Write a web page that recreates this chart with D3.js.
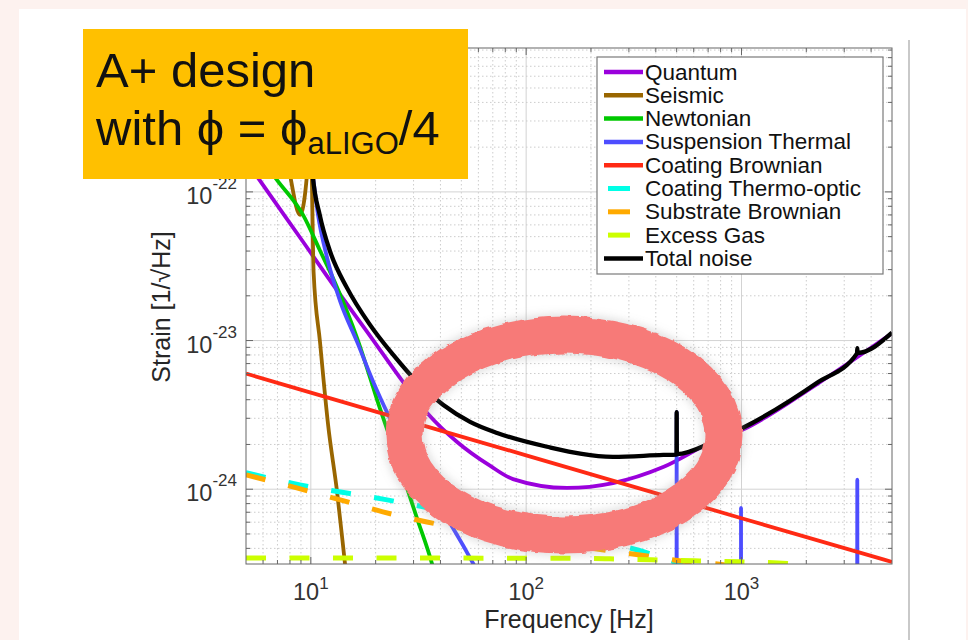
<!DOCTYPE html>
<html>
<head>
<meta charset="utf-8">
<script src="https://cdn.jsdelivr.net/npm/d3@7"></script>
<style>
  html, body { margin: 0; padding: 0; background: #fdf2ef; }
  svg { display: block; }
  text { font-family: "Liberation Sans", Arial, Helvetica, sans-serif; }
</style>
</head>
<body>
<svg id="chart" width="968" height="640"></svg>
<script>
// Noise budget curves, each point is [frequency (Hz), strain (1/√Hz)]
const quantum = [[5,1.62e-22],[6.46,9.55e-23],[9.2,4.62e-23],[13.2,2.19e-23],[18.8,1.08e-23],[26.8,5.27e-24],[34.7,3.26e-24],[47.8,2.08e-24],[67.9,1.44e-24],[86.9,1.17e-24],[155,1.02e-24],[253,1.10e-24],[433,1.41e-24],[715,2.05e-24],[1017,2.52e-24],[2244,5.1e-24],[5000,1.12e-23]];
const seismic = [[5,3e-21],[7.2,3.5e-22],[8.0,1.31e-22],[8.91,7.0e-23],[9.6,1.31e-22],[9.85,2.5e-22],[10.1,1.31e-22],[10.3,2.9e-23],[11.03,9.8e-24],[12.03,2.71e-24],[13.24,9.6e-25],[14.43,3.1e-25],[16,8e-26]];
const newtonian = [[5,2.3e-22],[6.97,1.20e-22],[9.2,7.0e-23],[11.0,4.07e-23],[13.2,2.30e-23],[16.4,1.04e-23],[20.9,3.52e-24],[26.8,1.23e-24],[31.1,6.4e-25],[37.0,2.95e-25],[45,8e-26]];
const suspension = [[5,5e-21],[9,4e-22],[10.2,1.31e-22],[10.8,7.0e-23],[11.9,3.61e-23],[13.7,1.83e-23],[16.4,9.8e-24],[19.5,5.27e-24],[22.9,3.16e-24],[28.9,1.63e-24],[35.8,9.6e-25],[45.7,5.48e-25],[57.9,3.0e-25],[80,1.2e-25],[150,3e-26],[499,1e-26],[500,3.3e-24],[501,1e-26],[994,1e-26],[995,7.5e-25],[996,1e-26],[3440,1e-26],[3450,1.16e-24],[3460,1e-26],[5000,1e-26]];
const coatingBrownian = [[5,6.0e-24],[10,4.46e-24],[100,1.69e-24],[1000,6.38e-25],[5000,3.24e-25]];
const coatingThermoOptic = [[5,1.29e-24],[8.9,1.07e-24],[22.6,8.48e-25],[57,6.51e-25],[90.8,5.67e-25],[129,5.08e-25],[365,3.73e-25],[535,3.05e-25],[800,2.1e-25]];
const substrateBrownian = [[5,1.25e-24],[8.6,1.02e-24],[13.7,8.48e-25],[21.6,7.04e-25],[34.6,6.02e-25],[54.9,5.32e-25],[338,3.61e-25],[577,3.24e-25],[822,3.1e-25],[1200,2.6e-25]];
const excessGas = [[5,3.45e-25],[150,3.43e-25],[245,3.40e-25],[382,3.35e-25],[605,3.30e-25],[985,3.25e-25],[1630,3.16e-25],[2500,2.9e-25],[5000,2.5e-25]];
const totalNoise = [[5,2e-21],[8,6e-22],[9.8,4e-22],[10.2,1.31e-22],[11.0,7.0e-23],[12.3,3.96e-23],[14.7,2.27e-23],[18.8,1.28e-23],[24.1,8.03e-24],[31.1,5.27e-24],[41.1,3.70e-24],[54.9,2.84e-24],[73.3,2.39e-24],[125,1.93e-24],[253,1.65e-24],[433,1.70e-24],[499,1.71e-24],[500,3.3e-24],[501,1.72e-24],[738,2.08e-24],[1017,2.59e-24],[2244,5.2e-24],[3440,8.2e-24],[3450,8.9e-24],[3460,8.25e-24],[5000,1.13e-23]];

const seriesNames = ["Quantum","Seismic","Newtonian","Suspension Thermal","Coating Brownian","Coating Thermo-optic","Substrate Brownian","Excess Gas","Total noise"];
const seriesData = [quantum, seismic, newtonian, suspension, coatingBrownian, coatingThermoOptic, substrateBrownian, excessGas, totalNoise];
const seriesColors = ["#9a00dc","#996600","#00c800","#4d4dff","#ff2a14","#00ffe6","#ffaa00","#ccff00","#000000"];
const seriesDashed = [false,false,false,false,false,true,true,true,false];

const freqDomain = [5, 5000];
const strainDomain = [3.14e-25, 9.29e-22];
const xTickValues = [10, 100, 1000];
const xTickExponents = ["1", "2", "3"];
const yTickValues = [1e-22, 1e-23, 1e-24];
const yTickExponents = ["-22", "-23", "-24"];

const svg = d3.select("#chart");

// slide card
svg.append("rect").attr("x", 19).attr("y", 9).attr("width", 947).attr("height", 631).attr("fill", "#ffffff");
svg.append("line").attr("x1", 909).attr("x2", 909).attr("y1", 40).attr("y2", 640)
  .attr("stroke", "#c9c9c9").attr("stroke-width", 2);

const L = 246, R = 892, T = 48, B = 564;
const x = d3.scaleLog().domain(freqDomain).range([L, R]);
const y = d3.scaleLog().domain(strainDomain).range([B, T]);

const isMajor = v => Math.abs(Math.log10(v) - Math.round(Math.log10(v))) < 1e-9;
const xt = x.ticks().filter(v => v > freqDomain[0] * 1.0001 && v < freqDomain[1] * 0.9999);
const yt = y.ticks().filter(v => v > strainDomain[0] && v < strainDomain[1]);

// grid
const grid = svg.append("g");
grid.selectAll("line.gx").data(xt).join("line")
  .attr("x1", d => x(d)).attr("x2", d => x(d)).attr("y1", T).attr("y2", B)
  .attr("stroke", d => isMajor(d) ? "#d3d3d3" : "#cccccc")
  .attr("stroke-dasharray", d => isMajor(d) ? null : "1.5,2.5");
grid.selectAll("line.gy").data(yt).join("line")
  .attr("y1", d => y(d)).attr("y2", d => y(d)).attr("x1", L).attr("x2", R)
  .attr("stroke", d => isMajor(d) ? "#d3d3d3" : "#cccccc")
  .attr("stroke-dasharray", d => isMajor(d) ? null : "1.5,2.5");

// curves
svg.append("clipPath").attr("id", "plotClip").append("rect")
  .attr("x", L).attr("y", T).attr("width", R - L).attr("height", B - T);
const line = d3.line().x(d => x(d[0])).y(d => y(d[1])).curve(d3.curveMonotoneX);
const curves = svg.append("g").attr("clip-path", "url(#plotClip)");
seriesData.forEach((data, i) => {
  curves.append("path").datum(data)
    .attr("d", line)
    .attr("fill", "none")
    .attr("stroke", seriesColors[i])
    .attr("stroke-width", seriesDashed[i] ? 5 : (i === 8 ? 4.3 : 3.8))
    .attr("stroke-linejoin", "round")
    .attr("stroke-dasharray", seriesDashed[i] ? "20,23.5" : null);
});

// axes box and inward ticks
const ax = svg.append("g").attr("stroke", "#666").attr("stroke-width", 1);
ax.append("rect").attr("x", L).attr("y", T).attr("width", R - L).attr("height", B - T).attr("fill", "none");
xt.forEach(v => {
  const len = isMajor(v) ? 7 : 4;
  ax.append("line").attr("x1", x(v)).attr("x2", x(v)).attr("y1", B).attr("y2", B - len);
  ax.append("line").attr("x1", x(v)).attr("x2", x(v)).attr("y1", T).attr("y2", T + len);
});
yt.forEach(v => {
  const len = isMajor(v) ? 7 : 4;
  ax.append("line").attr("y1", y(v)).attr("y2", y(v)).attr("x1", L).attr("x2", L + len);
  ax.append("line").attr("y1", y(v)).attr("y2", y(v)).attr("x1", R).attr("x2", R - len);
});

// tick labels
xTickValues.forEach((v, i) => {
  const t = svg.append("text").attr("x", x(v)).attr("y", 600)
    .attr("text-anchor", "middle").attr("fill", "#333").attr("font-size", 23.5);
  t.append("tspan").text("10");
  t.append("tspan").attr("font-size", 17).attr("dy", -11).text(xTickExponents[i]);
});
yTickValues.forEach((v, i) => {
  const t = svg.append("text").attr("x", 237).attr("y", y(v) + 12)
    .attr("text-anchor", "end").attr("fill", "#333").attr("font-size", 23.5);
  t.append("tspan").text("10");
  t.append("tspan").attr("font-size", 17).attr("dy", -15).text(yTickExponents[i]);
});

// axis titles
svg.append("text").attr("x", 569).attr("y", 628).attr("text-anchor", "middle")
  .attr("font-size", 25).attr("fill", "#262626").text("Frequency [Hz]");
svg.append("text").attr("transform", "translate(170,307) rotate(-90)").attr("text-anchor", "middle")
  .attr("font-size", 25).attr("fill", "#262626").text("Strain [1/√Hz]");

// legend
const lg = svg.append("g");
lg.append("rect").attr("x", 597).attr("y", 57).attr("width", 286).attr("height", 217)
  .attr("fill", "#fff").attr("stroke", "#7a7a7a").attr("stroke-width", 1.2);
seriesNames.forEach((name, i) => {
  const cy = 72 + i * 23.3;
  lg.append("line")
    .attr("x1", seriesDashed[i] ? 608 : 604).attr("x2", seriesDashed[i] ? 630 : 643)
    .attr("y1", cy).attr("y2", cy)
    .attr("stroke", seriesColors[i]).attr("stroke-width", seriesDashed[i] ? 5 : 4.5);
  lg.append("text").attr("x", 645).attr("y", cy + 7.5).attr("font-size", 22.5)
    .attr("fill", "#111").text(name);
});

// hand-drawn highlight ring around the bucket minimum
const defs = svg.append("defs");
const rough = defs.append("filter").attr("id", "rough")
  .attr("x", "-10%").attr("y", "-10%").attr("width", "120%").attr("height", "120%");
rough.append("feTurbulence").attr("type", "fractalNoise").attr("baseFrequency", 0.09)
  .attr("numOctaves", 2).attr("seed", 3).attr("result", "noise");
rough.append("feDisplacementMap").attr("in", "SourceGraphic").attr("in2", "noise")
  .attr("scale", 5).attr("xChannelSelector", "R").attr("yChannelSelector", "G").attr("result", "moved");
rough.append("feGaussianBlur").attr("in", "moved").attr("stdDeviation", 0.6);
defs.append("filter").attr("id", "shade").attr("x", "-20%").attr("y", "-20%").attr("width", "140%").attr("height", "140%")
  .append("feGaussianBlur").attr("stdDeviation", 4);
svg.append("ellipse").attr("cx", 564).attr("cy", 435).attr("rx", 160).attr("ry", 100)
  .attr("fill", "none").attr("stroke", "#9a9a9a").attr("stroke-opacity", 0.3)
  .attr("stroke-width", 42).attr("filter", "url(#shade)");
svg.append("ellipse").attr("cx", 564).attr("cy", 435).attr("rx", 160).attr("ry", 100)
  .attr("fill", "none").attr("stroke", "#f77a78")
  .attr("stroke-width", 37).attr("filter", "url(#rough)");

// title box
svg.append("rect").attr("x", 83).attr("y", 29).attr("width", 385).attr("height", 150).attr("fill", "#ffc000");
svg.append("text").attr("x", 96).attr("y", 87).attr("font-size", 49).attr("fill", "#111").text("A+ design");
const t2 = svg.append("text").attr("x", 96).attr("y", 145).attr("font-size", 49).attr("fill", "#111");
t2.append("tspan").text("with ϕ = ϕ");
t2.append("tspan").attr("font-size", 31).attr("dy", 9).text("aLIGO");
t2.append("tspan").attr("dy", -9).text("/4");
</script>
</body>
</html>
